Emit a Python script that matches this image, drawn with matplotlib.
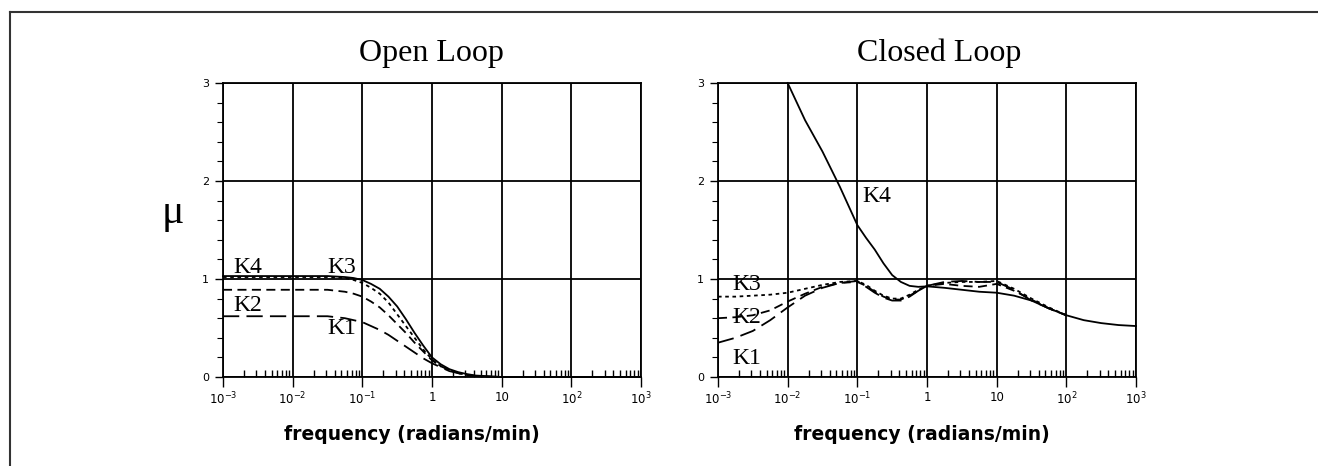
import numpy as np
import matplotlib
matplotlib.use("Agg")
import matplotlib.pyplot as plt
from matplotlib.lines import Line2D
from matplotlib.ticker import FixedLocator, FixedFormatter, MultipleLocator, LogLocator, NullFormatter

# --- datos ---
# Lazo abierto: exponentes de frecuencia (rad/min) y mu de cada controlador
ol_exp = [-3, -2, -1.5, -1.25, -1.125, -1, -0.875, -0.75, -0.625, -0.5, -0.375, -0.25,
          -0.125, 0, 0.125, 0.25, 0.375, 0.5, 0.625, 0.75, 1, 2, 3]
ol_k4 = [1.03, 1.03, 1.03, 1.02, 1.01, 0.99, 0.95, 0.90, 0.82, 0.72, 0.59, 0.45,
         0.32, 0.20, 0.13, 0.08, 0.05, 0.03, 0.015, 0.01, 0.0, 0.0, 0.0]
ol_k3 = [1.02, 1.02, 1.02, 1.01, 0.99, 0.96, 0.91, 0.85, 0.76, 0.64, 0.52, 0.40,
         0.28, 0.18, 0.11, 0.07, 0.04, 0.02, 0.01, 0.005, 0.0, 0.0, 0.0]
ol_k2 = [0.89, 0.89, 0.89, 0.87, 0.85, 0.82, 0.77, 0.71, 0.63, 0.54, 0.45, 0.35,
         0.26, 0.17, 0.11, 0.07, 0.04, 0.02, 0.01, 0.005, 0.0, 0.0, 0.0]
ol_k1 = [0.62, 0.62, 0.62, 0.60, 0.58, 0.56, 0.52, 0.48, 0.43, 0.37, 0.31, 0.25,
         0.19, 0.14, 0.10, 0.06, 0.04, 0.02, 0.01, 0.005, 0.0, 0.0, 0.0]

# Lazo cerrado
cl_exp = [-3, -2.75, -2.5, -2.25, -2, -1.75, -1.5, -1.25, -1, -0.875, -0.75, -0.625,
          -0.5, -0.375, -0.25, -0.125, 0, 0.25, 0.5, 0.75, 1, 1.25, 1.5, 1.75, 2]
cl_k3 = [0.82, 0.82, 0.83, 0.84, 0.86, 0.90, 0.94, 0.97, 0.98, 0.94, 0.88, 0.83,
         0.80, 0.80, 0.84, 0.89, 0.93, 0.96, 0.97, 0.97, 0.98, 0.90, 0.80, 0.71, 0.63]
cl_k2 = [0.60, 0.61, 0.63, 0.68, 0.77, 0.85, 0.92, 0.96, 0.97, 0.93, 0.87, 0.82,
         0.79, 0.79, 0.83, 0.88, 0.93, 0.95, 0.93, 0.92, 0.95, 0.88, 0.79, 0.70, 0.63]
cl_k1 = [0.35, 0.40, 0.47, 0.58, 0.71, 0.83, 0.91, 0.96, 0.98, 0.92, 0.86, 0.81,
         0.78, 0.78, 0.82, 0.88, 0.93, 0.97, 0.98, 0.97, 0.97, 0.89, 0.78, 0.70, 0.63]
cl_k4_exp = [-2, -1.75, -1.5, -1.25, -1, -0.875, -0.75, -0.625, -0.5, -0.375, -0.25,
             -0.125, 0, 0.25, 0.5, 0.75, 1, 1.25, 1.5, 1.75, 2, 2.25, 2.5, 2.75, 3]
cl_k4 = [3.0, 2.62, 2.30, 1.94, 1.55, 1.42, 1.30, 1.16, 1.04, 0.97, 0.93,
         0.92, 0.925, 0.91, 0.89, 0.87, 0.86, 0.83, 0.78, 0.70, 0.63, 0.58, 0.55, 0.53, 0.52]

dec_exp = [-3, -2, -1, 0, 1, 2, 3]
dec_lbl = ["10$^{\\mathregular{-3}}$", "10$^{\\mathregular{-2}}$", "10$^{\\mathregular{-1}}$",
           "1", "10", "10$^{\\mathregular{2}}$", "10$^{\\mathregular{3}}$"]

ESTILOS = {"K4": "-", "K3": (0, (2, 2)), "K2": (0, (5, 3)), "K1": (0, (9, 4))}
SERIF = "Liberation Serif"

W, H = 1318, 466
fig = plt.figure(figsize=(W / 100, H / 100), dpi=100)
fig.patch.set_facecolor("white")


def _px(x0, y0, x1, y1):
    return [x0 / W, 1 - y1 / H, (x1 - x0) / W, (y1 - y0) / H]


def _preparar(ax):
    ax.set_xscale("log")
    ax.set_xlim(1e-3, 1e3)
    ax.set_ylim(0, 3)
    ax.xaxis.set_major_locator(FixedLocator([10.0 ** e for e in dec_exp]))
    ax.xaxis.set_major_formatter(FixedFormatter(dec_lbl))
    ax.xaxis.set_minor_locator(LogLocator(base=10, subs=np.arange(2, 10), numticks=20))
    ax.xaxis.set_minor_formatter(NullFormatter())
    ax.yaxis.set_major_locator(FixedLocator([0, 1, 2, 3]))
    ax.yaxis.set_minor_locator(MultipleLocator(0.2))
    ax.grid(True, which="major", color="black", linewidth=1.3)
    ax.xaxis.set_tick_params(which="major", direction="out", length=7, width=1,
                             labelsize=8.5, pad=3)
    ax.xaxis.set_tick_params(which="minor", direction="in", length=5, width=1)
    ax.yaxis.set_tick_params(which="major", direction="out", length=6, width=1,
                             labelsize=8, pad=4)
    ax.yaxis.set_tick_params(which="minor", direction="out", length=4, width=0.8)
    for s in ax.spines.values():
        s.set_linewidth(1.3)
    ax.set_axisbelow(True)


def _curva(ax, exps, vals, k):
    ax.plot(10.0 ** np.array(exps), vals, color="black", linewidth=1.3,
            linestyle=ESTILOS[k], clip_on=False)


# --- Lazo abierto ---
ax1 = fig.add_axes(_px(223, 83, 641, 377))
_preparar(ax1)
_curva(ax1, ol_exp, ol_k4, "K4")
_curva(ax1, ol_exp, ol_k3, "K3")
_curva(ax1, ol_exp, ol_k2, "K2")
_curva(ax1, ol_exp, ol_k1, "K1")
for txt, x, y in [("K4", 1.4e-3, 1.12), ("K3", 0.032, 1.12),
                  ("K2", 1.4e-3, 0.73), ("K1", 0.032, 0.50)]:
    ax1.text(x, y, txt, family=SERIF, fontsize=17, ha="left", va="center")

# --- Lazo cerrado ---
ax2 = fig.add_axes(_px(718, 83, 1136, 377))
_preparar(ax2)
_curva(ax2, cl_exp, cl_k3, "K3")
_curva(ax2, cl_exp, cl_k2, "K2")
_curva(ax2, cl_exp, cl_k1, "K1")
_curva(ax2, cl_k4_exp, cl_k4, "K4")
for txt, x, y in [("K3", 1.6e-3, 0.94), ("K2", 1.6e-3, 0.61),
                  ("K1", 1.6e-3, 0.19), ("K4", 0.12, 1.84)]:
    ax2.text(x, y, txt, family=SERIF, fontsize=17, ha="left", va="center")

# --- textos de figura ---
fig.text(431 / W, 1 - 61 / H, "Open Loop", family=SERIF, fontsize=23,
         ha="center", va="baseline")
fig.text(939 / W, 1 - 61 / H, "Closed Loop", family=SERIF, fontsize=23,
         ha="center", va="baseline")
for cx in (412, 922):
    fig.text(cx / W, 1 - 440 / H, "frequency (radians/min)", fontsize=13.5,
             fontweight="bold", ha="center", va="baseline")
fig.text(173 / W, 1 - 213 / H, "\u03bc", family=SERIF, fontsize=30,
         ha="center", va="center")

# marco parcial (arriba e izquierda)
fig.add_artist(Line2D([10 / W, 10 / W], [0, 1 - 12 / H], color="#333333", linewidth=1.5))
fig.add_artist(Line2D([10 / W, 1], [1 - 12 / H, 1 - 12 / H], color="#333333", linewidth=1.5))

fig.savefig("out.png", dpi=100)
